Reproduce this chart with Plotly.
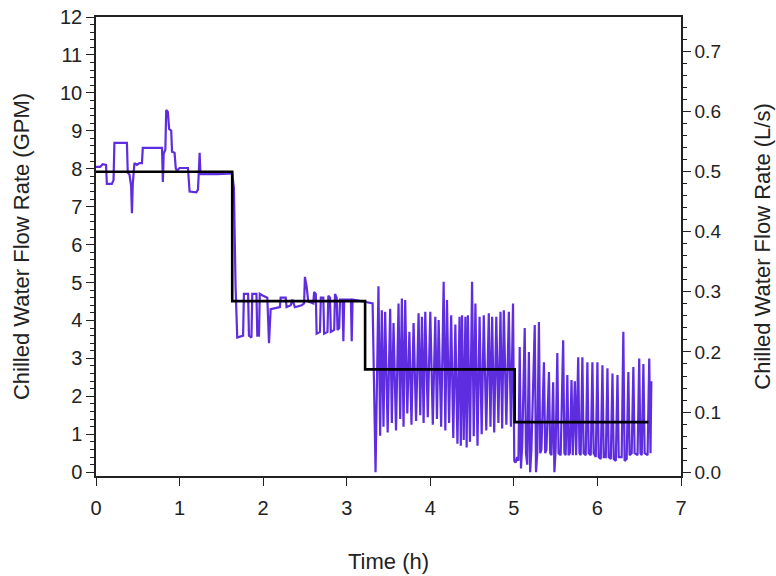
import plotly.graph_objects as go

# Measured chilled water flow (GPM) vs time (h)
flow_time = [
    0.00, 0.05, 0.08, 0.12, 0.13, 0.19, 0.21, 0.22, 0.37, 0.38, 0.40, 0.41, 0.42, 0.43, 0.44,
    0.46, 0.49, 0.52, 0.55, 0.56, 0.79, 0.80, 0.81, 0.83, 0.84, 0.86, 0.875, 0.90, 0.91, 0.94,
    0.955, 0.97, 1.00, 1.10, 1.12, 1.20, 1.22, 1.23, 1.24, 1.25, 1.45, 1.63, 1.65, 1.67, 1.68,
    1.69, 1.76, 1.77, 1.82, 1.83, 1.86, 1.87, 1.92, 1.93, 1.95, 1.96, 2.00, 2.05, 2.07, 2.09,
    2.20, 2.21, 2.27, 2.28, 2.33, 2.35, 2.38, 2.46, 2.49, 2.50, 2.52, 2.54, 2.60, 2.61, 2.63,
    2.64, 2.68, 2.69, 2.72, 2.73, 2.77, 2.78, 2.80, 2.81, 2.85, 2.86, 2.88, 2.89, 2.91, 2.92,
    2.95, 2.96, 2.97, 3.05, 3.06, 3.07, 3.20, 3.31,
    3.345, 3.38, 3.40, 3.42, 3.44, 3.46, 3.49, 3.52, 3.54, 3.56, 3.59, 3.62, 3.64, 3.66,
    3.68, 3.70, 3.725, 3.75, 3.775, 3.80, 3.83, 3.86, 3.88, 3.90, 3.92, 3.94, 3.97, 4.00,
    4.03, 4.06, 4.08, 4.10, 4.13, 4.16, 4.18, 4.20, 4.225, 4.25, 4.275, 4.30, 4.325, 4.35,
    4.365, 4.38, 4.40, 4.42, 4.435, 4.45, 4.475, 4.50, 4.52, 4.54, 4.565, 4.59, 4.615, 4.64,
    4.67, 4.70, 4.72, 4.74, 4.765, 4.79, 4.815, 4.84, 4.86, 4.88, 4.91, 4.94, 4.965, 4.99,
    5.005, 5.02, 5.04, 5.055, 5.07, 5.085, 5.10, 5.13, 5.145, 5.16, 5.18, 5.195, 5.21, 5.25,
    5.265, 5.28, 5.30, 5.315, 5.33, 5.36, 5.375, 5.39, 5.42, 5.435, 5.45, 5.47, 5.485, 5.50,
    5.52, 5.535, 5.56, 5.59, 5.605, 5.62, 5.64, 5.655, 5.67, 5.69, 5.705, 5.73, 5.745, 5.77,
    5.785, 5.80, 5.82, 5.835, 5.86, 5.88, 5.895, 5.92, 5.94, 5.955, 5.98, 6.00, 6.015, 6.04,
    6.06, 6.075, 6.10, 6.12, 6.135, 6.16, 6.18, 6.195, 6.22, 6.24, 6.255, 6.29, 6.31, 6.325,
    6.35, 6.37, 6.385, 6.41, 6.43, 6.445, 6.48, 6.50, 6.515, 6.53, 6.55, 6.565, 6.60, 6.62,
    6.635, 6.645,
]
flow_gpm = [
    8.05, 8.05, 8.12, 8.10, 7.60, 7.60, 7.70, 8.68, 8.68, 7.90, 7.85, 7.60, 7.55, 6.83, 7.60,
    8.15, 8.10, 8.15, 8.15, 8.55, 8.55, 7.65, 8.40, 8.50, 9.55, 9.50, 9.05, 9.00, 8.45, 8.42,
    8.00, 7.95, 8.02, 8.02, 7.40, 7.38, 7.45, 7.90, 8.42, 7.86, 7.86, 7.88, 7.50, 4.90, 4.00,
    3.55, 3.60, 4.70, 4.70, 3.60, 3.55, 4.70, 4.70, 3.60, 3.60, 4.70, 4.65, 4.60, 3.40, 4.30,
    4.35, 4.60, 4.60, 4.35, 4.40, 4.55, 4.35, 4.40, 4.45, 5.15, 4.90, 4.50, 4.45, 4.75, 4.70,
    3.65, 3.70, 4.60, 4.60, 3.65, 3.70, 4.65, 4.60, 3.70, 3.75, 4.70, 4.60, 3.75, 3.80, 4.55,
    4.55, 3.45, 4.55, 4.55, 3.45, 4.55, 4.50, 4.45,
    0.00, 4.90, 0.96, 4.27, 1.20, 4.23, 1.05, 4.31, 1.30, 3.93, 1.10, 4.45, 1.40, 4.58,
    1.20, 4.54, 1.55, 3.70, 1.25, 3.93, 1.35, 4.19, 1.50, 4.10, 1.30, 4.23, 1.45, 4.23,
    1.25, 4.10, 1.40, 4.01, 1.20, 5.02, 1.10, 4.54, 1.30, 4.14, 0.90, 3.89, 0.75, 4.10,
    0.70, 4.14, 0.85, 4.10, 0.65, 4.14, 0.80, 5.02, 0.95, 4.45, 0.70, 4.10, 1.00, 4.14,
    1.10, 4.19, 1.20, 4.10, 1.05, 4.10, 1.30, 4.23, 1.15, 4.27, 1.25, 4.23, 1.20, 4.45,
    0.30, 0.25, 0.40, 0.30, 3.30, 0.10, 0.70, 3.80, 0.50, 0.20, 3.17, 0.00, 0.60, 3.88,
    0.00, 0.50, 3.96, 0.50, 0.60, 2.90, 0.50, 0.60, 2.64, 0.50, 0.45, 2.37, 0.00, 0.60,
    3.14, 0.50, 0.45, 3.48, 0.50, 0.45, 2.56, 0.45, 0.50, 2.43, 0.45, 2.40, 0.45, 3.03,
    0.50, 0.45, 3.03, 0.50, 0.45, 2.90, 0.50, 0.45, 2.90, 0.50, 0.40, 2.90, 0.40, 0.35,
    2.82, 0.40, 0.40, 2.74, 0.40, 0.35, 2.60, 0.35, 0.30, 2.56, 0.40, 0.40, 3.70, 0.30,
    0.35, 2.64, 0.45, 0.50, 2.77, 0.50, 0.45, 3.00, 0.50, 0.45, 2.85, 0.50, 0.45, 3.00,
    0.50, 2.40,
]

# Set-point (black step line)
step_time = [0.0, 1.63, 3.22, 5.01, 6.61]
step_gpm = [7.92, 4.51, 2.71, 1.32, 1.32]

GPM_TO_LS = 0.06309
y_min, y_max = -0.1, 12.0

font_family = "Arial, Liberation Sans, Helvetica, sans-serif"
txt = "#222222"

fig = go.Figure()
fig.add_trace(go.Scatter(
    x=flow_time, y=flow_gpm, mode="lines",
    line=dict(color="#5f2de0", width=2.2), showlegend=False,
))
fig.add_trace(go.Scatter(
    x=step_time, y=step_gpm, mode="lines", line_shape="hv",
    line=dict(color="black", width=2.6), showlegend=False,
))
# invisible trace to activate right axis
fig.add_trace(go.Scatter(
    x=[0], y=[0], yaxis="y2", mode="markers",
    marker=dict(opacity=0), showlegend=False, hoverinfo="skip",
))

fig.update_layout(
    width=776, height=576,
    margin=dict(l=96, r=95, t=17, b=100),
    paper_bgcolor="white", plot_bgcolor="white",
    font=dict(family=font_family, color=txt, size=20),
    xaxis=dict(
        range=[0, 7], dtick=1, tick0=0, automargin=False,
        showgrid=False, zeroline=False,
        showline=True, linecolor="#222", linewidth=1.5, mirror=True,
        ticks="outside", ticklen=8, tickwidth=1.3, tickcolor="#222",
        tickfont=dict(size=20), ticklabelstandoff=5,
        title=dict(text="Time (h)", font=dict(size=22), standoff=36),
    ),
    yaxis=dict(
        range=[y_min, y_max], dtick=1, tick0=0, automargin=False,
        showgrid=False, zeroline=False,
        showline=True, linecolor="#222", linewidth=1.5,
        ticks="outside", ticklen=8, tickwidth=1.3, tickcolor="#222",
        minor=dict(dtick=0.2, ticks="outside", ticklen=4, tickcolor="#222", tickwidth=1),
        tickfont=dict(size=20),
        title=dict(text="Chilled Water Flow Rate (GPM)", font=dict(size=22), standoff=24),
    ),
    yaxis2=dict(
        range=[y_min * GPM_TO_LS, y_max * GPM_TO_LS], dtick=0.1, tick0=0,
        tickformat=".1f", overlaying="y", side="right", automargin=False,
        showgrid=False, zeroline=False,
        showline=True, linecolor="#222", linewidth=1.5,
        ticks="outside", ticklen=8, tickwidth=1.3, tickcolor="#222",
        minor=dict(dtick=0.02, ticks="outside", ticklen=4, tickcolor="#222", tickwidth=1),
        tickfont=dict(size=19),
        title=dict(text="Chilled Water Flow Rate (L/s)", font=dict(size=22), standoff=34),
    ),
)

fig.write_html("out.html")
